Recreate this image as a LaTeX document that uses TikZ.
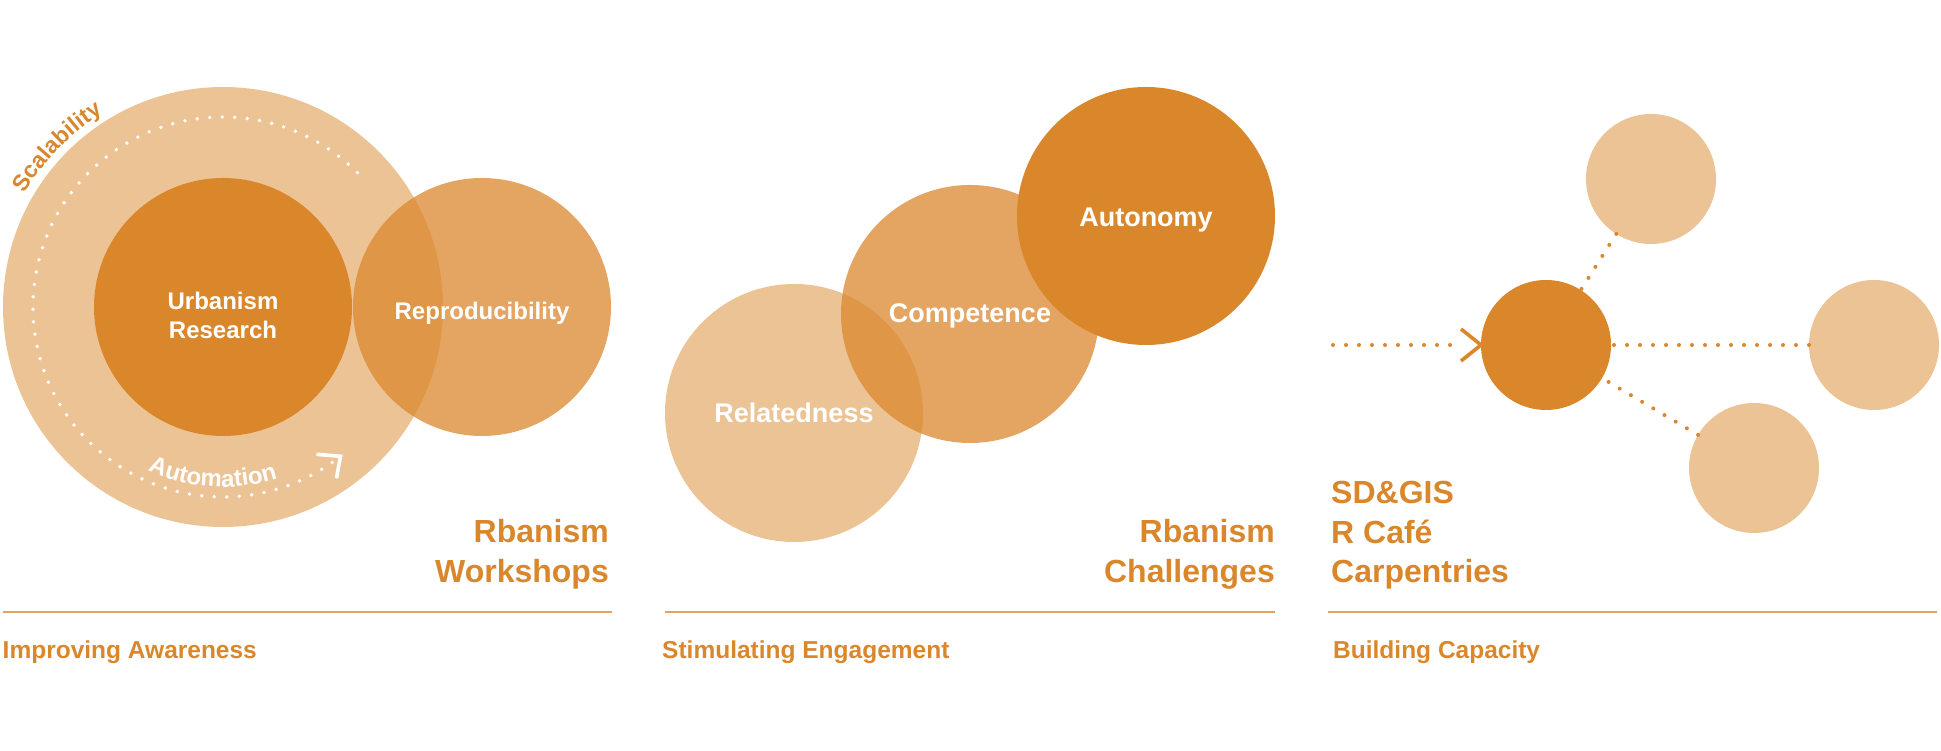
\documentclass[tikz,border=0pt]{standalone}
\usepackage{fontspec}
\setmainfont{Liberation Sans}
\usetikzlibrary{calc,decorations.text}
\definecolor{rorange}{HTML}{DA872C}
\definecolor{rrule}{HTML}{E3A461}
\newcommand\scalfont{\bfseries\fontsize{23}{27}\selectfont\color{rorange}}
\newcommand\autofont{\bfseries\fontsize{24}{28}\selectfont\color{white}}
\tikzset{
  disc/.style={circle, inner sep=0pt, outer sep=0pt, draw=none, fill=rorange},
  lightdisc/.style={disc, fill opacity=0.5},
  middisc/.style={disc, fill opacity=0.75},
  darkdisc/.style={disc},
  lbl/.style={text=white, font=\bfseries\fontsize{24}{29}\selectfont, anchor=base, inner sep=0pt},
  lblb/.style={lbl, font=\bfseries\fontsize{27}{32}\selectfont},
  ttl/.style={text=rorange, font=\bfseries\fontsize{32}{40}\selectfont, inner sep=0pt},
  capt/.style={text=rorange, font=\bfseries\fontsize{24.5}{29}\selectfont, anchor=base west, inner sep=0pt},
  rulel/.style={draw=rrule, line width=2pt},
  wdots/.style={draw=white, line width=3.8pt, line cap=round, dash pattern=on 0pt off 12.5pt},
  odots/.style={draw=rorange, line width=4pt, line cap=round, dash pattern=on 0pt off 13pt},
  chevw/.style={draw=white, line width=3.6pt},
  chevo/.style={draw=rorange, line width=3.6pt},
}
\begin{document}
\begin{tikzpicture}[x=1pt,y=1pt]
\useasboundingbox (0,0) rectangle (1941,751);

% ---------- left panel ----------
\node[lightdisc, minimum size=440] (scale) at (223,444) {};
\node[darkdisc, minimum size=258] (urb) at (223,444) {};
\node[middisc, minimum size=258] (repro) at (482,444) {};
\node[lbl] (urbA) at (223,441.7) {Urbanism};
\node[lbl] (urbB) at (223,412.7) {Research};
\node[lbl] (reprotxt) at (482,431.5) {Reproducibility};

\draw[wdots] ($(scale.center)+(45:190)$) arc[start angle=45, end angle=306, radius=190];
\coordinate (chevL) at ($(scale.center)+(-51.8:190)$);
\draw[chevw] ($(chevL)+(-24,2)$) -- (chevL) -- ($(chevL)+(-4,-22)$);

\path[decorate, decoration={text along path, text={|\scalfont|Scalability}, text align=center}]
  ($(scale.center)+(166:228)$) arc[start angle=166, end angle=106, radius=228];
\path[decorate, decoration={text along path, text={|\autofont|Automation}, text align=center}]
  ($(scale.center)+(-126:180)$) arc[start angle=-126, end angle=-61, radius=180];

\node[ttl, anchor=base east] (rb1) at (609,208) {Rbanism};
\node[ttl, anchor=base east] (rb2) at (609,168) {Workshops};
\coordinate (r1a) at (2.5,139);
\coordinate (r1b) at (611.5,139);
\draw[rulel] (r1a) -- (r1b);
\node[capt] (cap1) at (2.5,92) {Improving Awareness};

% ---------- middle panel ----------
\node[lightdisc, minimum size=258] (rel) at (794,338) {};
\node[middisc, minimum size=258] (comp) at (970,437) {};
\node[darkdisc, minimum size=258] (auto) at (1146,535) {};
\node[lblb] (reltxt) at (794,328) {Relatedness};
\node[lblb] (comptxt) at (970,428) {Competence};
\node[lblb] (autotxt) at (1146,524) {Autonomy};

\node[ttl, anchor=base east] (rb3) at (1275,208) {Rbanism};
\node[ttl, anchor=base east] (rb4) at (1275,168) {Challenges};
\coordinate (r2a) at (665,139);
\coordinate (r2b) at (1275,139);
\draw[rulel] (r2a) -- (r2b);
\node[capt] (cap2) at (662,92) {Stimulating Engagement};

% ---------- right panel ----------
\node[darkdisc, minimum size=130] (hub) at (1546,406) {};
\node[lightdisc, minimum size=130] (top) at (1651,572) {};
\node[lightdisc, minimum size=130] (east) at (1874,406) {};
\node[lightdisc, minimum size=130] (south) at (1754,283) {};
\draw[odots] (top) -- (hub);
\draw[odots] (east) -- (hub);
\draw[odots] (south) -- (hub);
\coordinate (inA) at (1333,406);
\coordinate (inB) at ($(hub.west)+(-30,0)$);
\draw[odots] (inA) -- (inB);
\draw[chevo] ($(hub.west)+(-20,16)$) -- (hub.west) -- ($(hub.west)+(-20,-16)$);

\node[ttl, anchor=base west] (t1) at (1331,247) {SD\&GIS};
\node[ttl, anchor=base west] (t2) at (1331,207.5) {R Café};
\node[ttl, anchor=base west] (t3) at (1331,168) {Carpentries};
\coordinate (r3a) at (1328,139);
\coordinate (r3b) at (1937,139);
\draw[rulel] (r3a) -- (r3b);
\node[capt] (cap3) at (1333,92) {Building Capacity};
\end{tikzpicture}
\end{document}
